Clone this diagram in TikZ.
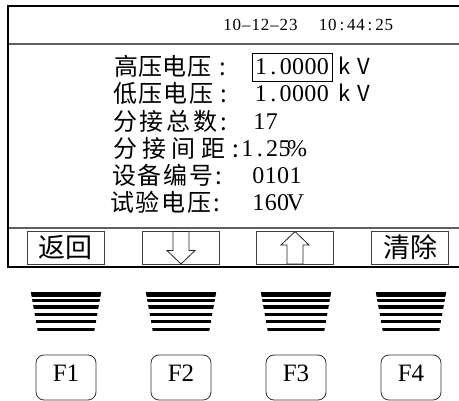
\documentclass[tikz,border=0pt]{standalone}
\usepackage{fontspec}
\setmainfont{Liberation Serif}
\newfontfamily\cjk{Noto Sans CJK SC}
\newcommand\cellrow[2]{\def\cellw{#1}\cellloop#2\relax}
\def\cellloop#1{\ifx#1\relax\else\makebox[\cellw][c]{#1}\expandafter\cellloop\fi}
\newcommand\spreadfour[5]{\hbox to #1{#2\hfil#3\hfil#4\hfil#5}}
\tikzset{
  frameline/.style={line width=1.4pt, black},
  sepline/.style={line width=1.6pt, gray!75!black},
  lbl/.style={font=\cjk\fontsize{24}{28}\selectfont, inner sep=0pt, anchor=base west},
  colon/.style={font=\cjk\fontsize{24}{28}\selectfont, inner sep=0pt, anchor=base},
  val/.style={font=\fontsize{24}{28}\selectfont, inner sep=0pt, anchor=base west},
  unit/.style={font=\cjk\fontsize{22}{26}\selectfont, inner sep=0pt, anchor=base west},
  datetxt/.style={font=\fontsize{17}{20}\selectfont, inner sep=0pt, anchor=base},
  btn/.style={draw=gray!50!black, line width=0.8pt, minimum width=77pt, minimum height=33pt, inner sep=0pt, font=\cjk\fontsize{27}{30}\selectfont},
  fkey/.style={draw=gray!40!black, line width=0.8pt, rounded corners=8pt, minimum width=60pt, minimum height=45pt, inner sep=0pt, font=\fontsize{25}{28}\selectfont, text height=16.5pt, text depth=8.5pt},
  arrowshape/.style={draw=gray!30!black, line width=0.8pt, fill=white}
}
\begin{document}
\begin{tikzpicture}[x=1pt,y=-1pt]
\useasboundingbox (0,0) rectangle (459,401);
% screen frame
\draw[frameline] (459,6) -- (8,6) -- (8,267) -- (459,267);
\draw[sepline] (8.7,44) -- (459,44);
\draw[sepline] (8.7,228) -- (459,228);
% date / time
\node[datetxt] (date) at (260.5,30.6) {\cellrow{9.4pt}{10\textendash12\textendash23}};
\node[datetxt] (time) at (356,30.6) {\cellrow{9.4pt}{10:44:25}};
% parameter lines
\node[lbl] (l1) at (114,75.5) {\spreadfour{97pt}{高}{压}{电}{压}};
\node[lbl] (l2) at (113,102.8) {\spreadfour{100pt}{低}{压}{电}{压}};
\node[lbl] (l3) at (113,130.1) {\spreadfour{104pt}{分}{接}{总}{数}};
\node[lbl] (l4) at (113,157.4) {\spreadfour{112pt}{分}{接}{间}{距}};
\node[lbl] (l5) at (112,184.7) {\spreadfour{101pt}{设}{备}{编}{号}};
\node[lbl] (l6) at (110,212) {\spreadfour{101pt}{试}{验}{电}{压}};
\node[colon] (c1) at (222.5,75.5) {:};
\node[colon] (c2) at (223.5,102.8) {:};
\node[colon] (c3) at (224,130.1) {:};
\node[colon] (c4) at (235.5,157.4) {:};
\node[colon] (c5) at (219,184.7) {:};
\node[colon] (c6) at (217,212) {:};
\node[draw=black, line width=0.9pt, minimum width=80pt, minimum height=28pt, inner sep=0pt, font=\fontsize{24}{28}\selectfont] (v1) at (292,67) {\cellrow{12.4pt}{1.0000}};
\node[val] (v2) at (254.5,101.8) {\cellrow{12.4pt}{1.0000}};
\node[val] (v3) at (253,129.1) {\cellrow{12.4pt}{17}};
\node[val] (v4) at (241,156.4) {\cellrow{12.4pt}{1.25\%}};
\node[val] (v5) at (252,183.7) {\cellrow{12.4pt}{0101}};
\node[val] (v6) at (252,211) {\cellrow{12.4pt}{160V}};
\node[unit] (u1) at (335,74.5) {\cellrow{19pt}{kV}};
\node[unit] (u2) at (335,101.8) {\cellrow{19pt}{kV}};
% soft key labels
\node[btn] (b1) at (65.5,247.5) {返回};
\node[btn] (b2) at (181,247.5) {};
\node[btn] (b3) at (295,247.5) {};
\node[btn] (b4) at (410,247.5) {清除};
\draw[arrowshape] ([shift={(-8,-16)}]b2.center) -- ++(16,0) -- ++(0,19) -- ++(6,0) -- ++(-14,13.5) -- ++(-14,-13.5) -- ++(6,0) -- cycle;
\draw[arrowshape] ([shift={(-8,16.5)}]b3.center) -- ++(16,0) -- ++(0,-19) -- ++(6,0) -- ++(-14,-13.5) -- ++(-14,13.5) -- ++(6,0) -- cycle;
% key stripes
\foreach \cx in {66,181,296,411}{
  \begin{scope}
    \clip (\cx-35.2,292) -- (\cx+35.2,292) -- (\cx+28.3,331) -- (\cx-28.3,331) -- cycle;
    \foreach \ya/\yb in {292/297,298.7/302.3,305.3/308.7,313/316.3,320.3/323.3,328/331}
      \fill[black] (\cx-40,\ya) rectangle (\cx+40,\yb);
  \end{scope}
}
% function keys
\node[fkey] (f1) at (66,377.5) {F1};
\node[fkey] (f2) at (181,377.5) {F2};
\node[fkey] (f3) at (296,377.5) {F3};
\node[fkey] (f4) at (411,377.5) {F4};
\end{tikzpicture}
\end{document}
